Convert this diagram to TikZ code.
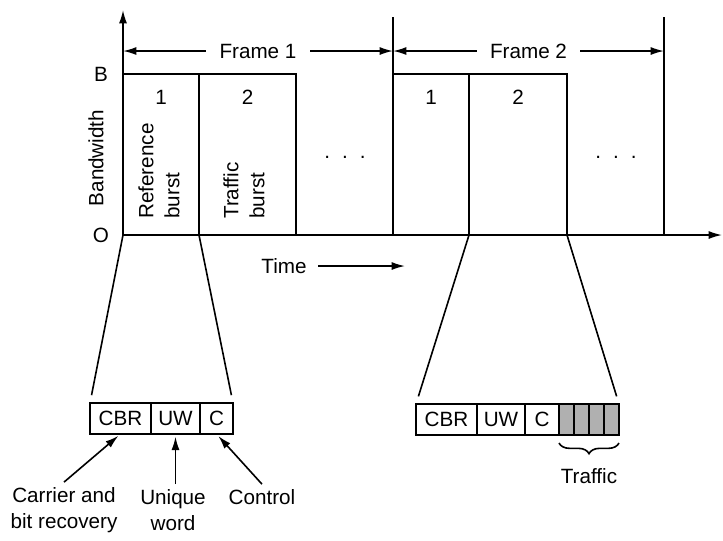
\documentclass[tikz,border=0pt]{standalone}
\usepackage{fontspec}
\setmainfont{Liberation Sans}
\usetikzlibrary{arrows.meta,positioning,calc,decorations.pathreplacing}
\definecolor{tdmaslot}{HTML}{B0B0B0}

\begin{document}
\begin{tikzpicture}[
  x=0.75pt,y=-0.75pt,
  font=\fontsize{15.5}{19.5}\selectfont,
  line width=1.2pt,
  >={Latex[length=10pt,width=6pt]},
  burst/.style={draw,anchor=south west,minimum height=120.75pt,inner sep=0pt,outer sep=0pt},
  field/.style={draw,minimum height=23.25pt,inner sep=0pt,outer sep=0pt},
  slot/.style={field,fill=tdmaslot,minimum width=11.25pt},
  flabel/.style={fill=white,inner xsep=10pt,inner ysep=2pt}
]
\useasboundingbox (0,0) rectangle (723,540);
% axes and frame limits
\coordinate (O) at (123,235);
\coordinate (ytop) at (123,10);
\coordinate (xend) at (722,235);
\coordinate (f1b) at (393,235);
\coordinate (f1t) at (393,17);
\coordinate (f2b) at (664,235);
\coordinate (f2t) at (664,17);
\draw[->] (O) -- (ytop);
\draw[->] (O) -- (xend);
\draw (f1b) -- (f1t);
\draw (f2b) -- (f2t);
\coordinate (fr0) at (123,51);
\coordinate (fr1) at (393,51);
\coordinate (fr2) at (664,51);
\draw[<->] (fr0) -- node[flabel] (frm1) {Frame 1} (fr1);
\draw[<->] (fr1) -- node[flabel] (frm2) {Frame 2} (fr2);
\node at (101,74) {B};
\node at (101,235) {O};
\node[rotate=90] (bw) at (96,158) {Bandwidth};
% bursts
\node[burst,minimum width=57pt] (ref1) at (O) {};
\node[burst,minimum width=72.75pt] (trf1) at (ref1.south east) {};
\node[burst,minimum width=57pt] (ref2) at (f1b) {};
\node[burst,minimum width=73.5pt] (trf2) at (ref2.south east) {};
\node at ($(ref1.north)+(0,23)$) {1};
\node at ($(trf1.north)+(0,23)$) {2};
\node at ($(ref2.north)+(0,23)$) {1};
\node at ($(trf2.north)+(0,23)$) {2};
\node[rotate=90,align=left,anchor=west] (reflbl) at (159,224) {Reference\\burst};
\node[rotate=90,align=left,anchor=west] (trflbl1) at (244,224) {Traffic\\burst};
\node (dots1) at (345,157) {.\hspace{9pt}.\hspace{9pt}.};
\node (dots2) at (616,157) {.\hspace{9pt}.\hspace{9pt}.};
\node (time) at (284,266) {Time};
\coordinate (timeend) at (405,266);
\draw[->] ([xshift=5pt]time.east) -- (timeend);
% burst contents
\node[field,minimum width=45.75pt,anchor=north west] (cbr1) at (90,403) {CBR};
\node[field,minimum width=36.75pt,right=0pt of cbr1] (uw1) {UW};
\node[field,minimum width=24.75pt,right=0pt of uw1] (c1) {C};
\node[field,minimum width=45.75pt,anchor=north west] (cbr2) at (416,404) {CBR};
\node[field,minimum width=36pt,right=0pt of cbr2] (uw2) {UW};
\node[field,minimum width=25.5pt,right=0pt of uw2] (c2) {C};
\node[slot,right=0pt of c2] (t1) {};
\node[slot,right=0pt of t1] (t2) {};
\node[slot,right=0pt of t2] (t3) {};
\node[slot,right=0pt of t3] (t4) {};
\draw[shorten >=6pt] (ref1.south west) -- (cbr1.north west);
\draw[shorten >=6pt] (ref1.south east) -- (c1.north east);
\draw[shorten >=6pt] (ref2.south east) -- (cbr2.north west);
\draw[shorten >=6pt] (trf2.south east) -- (t4.north east);
\draw[decorate,decoration={brace,mirror,amplitude=8pt}]
  ([yshift=-6pt]t1.south west) -- ([yshift=-6pt]t4.south east)
  node[midway,below=15pt] (trflbl2) {Traffic};
% field names
\node[align=center] (carrier) at (64,510) {Carrier and\\bit recovery};
\node[align=center] (unique) at (173,510) {Unique\\word};
\node (control) at (262,497) {Control};
\draw[->,shorten >=2pt] (carrier.north) -- (cbr1.south);
\draw[->,shorten >=2pt] (uw1.south |- unique.north) -- (uw1.south);
\draw[->,shorten >=2pt] (control.north) -- (c1.south);
\end{tikzpicture}
\end{document}
